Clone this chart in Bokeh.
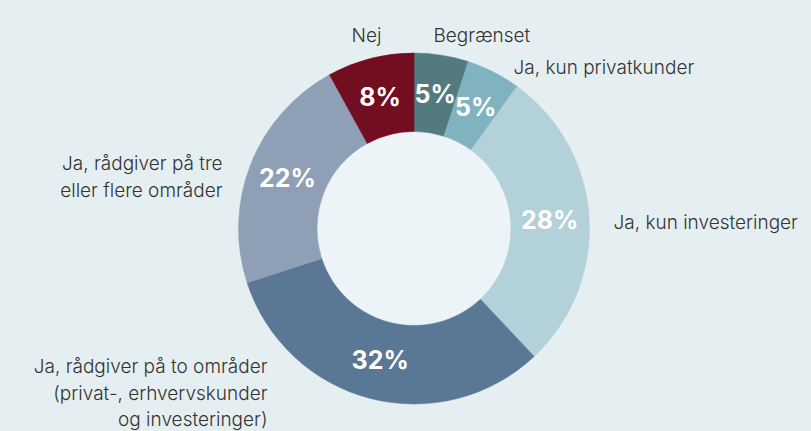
import math
from bokeh.plotting import figure
from bokeh.models import ColumnDataSource, Range1d
from bokeh.core.properties import value
from bokeh.embed import file_html
from bokeh.resources import INLINE

# ---------------- data ----------------
categories = [
    "Begrænset",
    "Ja, kun privatkunder",
    "Ja, kun investeringer",
    "Ja, rådgiver på to områder\n(privat-, erhvervskunder\nog investeringer)",
    "Ja, rådgiver på tre\neller flere områder",
    "Nej",
]
shares = [5, 5, 28, 32, 22, 8]
colors = ["#537a7e", "#80b3bf", "#b3d1d8", "#5a7795", "#8fa0b6", "#730e20"]

# ---------------- layout (page pixel coordinates) ----------------
W, H = 811, 431
CX, CY = 413.5, 228.0          # donut centre on the page
R_OUT, R_IN = 175.5, 97.0
R_PCT = 136.0
# outside label anchors: (left/right x, first baseline y, align)
label_anchor = [
    (433, 35, "left"),
    (513, 67, "left"),
    (613, 222, "left"),
    (267, 366, "right"),
    (222, 163, "right"),
    (351, 35, "left"),
]
LINE_H = 26.5
BG = "#e5eff2"
INNER = "#ecf4f7"
TXT = "#333333"
FONT = "Inter Light, Inter"
PFONT = "Inter"

total = float(sum(shares))
starts, ends, mids = [], [], []
cum = 0.0
for s in shares:
    a0 = math.pi / 2 - 2 * math.pi * cum / total
    cum += s
    a1 = math.pi / 2 - 2 * math.pi * cum / total
    starts.append(a0)
    ends.append(a1)
    mids.append((a0 + a1) / 2)

wedge_src = ColumnDataSource(dict(start=starts, end=ends, color=colors, cat=categories))

pct_src = ColumnDataSource(dict(
    x=[R_PCT * math.cos(m) for m in mids],
    y=[R_PCT * math.sin(m) for m in mids],
    t=[f"{s}%" for s in shares],
))

lx, ly, lt, la = [], [], [], []
for cat, (ax, ay, al) in zip(categories, label_anchor):
    for k, line in enumerate(cat.split("\n")):
        lx.append(ax - CX)
        ly.append(CY - (ay + k * LINE_H))
        lt.append(line)
        la.append(al)
lab_src = ColumnDataSource(dict(x=lx, y=ly, t=lt, a=la))

p = figure(
    width=W, height=H, output_backend="svg", toolbar_location=None,
    x_range=Range1d(0 - CX, W - CX), y_range=Range1d(CY - H, CY),
    min_border=0, background_fill_color=BG, border_fill_color=BG,
    outline_line_color=None,
)
p.axis.visible = False
p.grid.visible = False

p.circle(x=[0], y=[0], radius=R_IN, fill_color=INNER, line_color=None)
p.annular_wedge(x=0, y=0, inner_radius=R_IN, outer_radius=R_OUT,
                start_angle="start", end_angle="end", direction="clock",
                fill_color="color", line_color="color", line_width=0.5,
                source=wedge_src)

p.text(x="x", y="y", text="t", source=pct_src, text_color="white",
       text_font=value(PFONT), text_font_style="bold", text_font_size="25px",
       text_align="center", text_baseline="middle")

p.text(x="x", y="y", text="t", text_align="a", source=lab_src, text_color=TXT,
       text_font=value(FONT), text_font_size="19px", text_baseline="alphabetic")

template = "{% block preamble %}<style>html,body{background:" + BG + ";}</style>{% endblock %}"
html = file_html(p, INLINE, template=template)
open("out.html", "w").write(html)
